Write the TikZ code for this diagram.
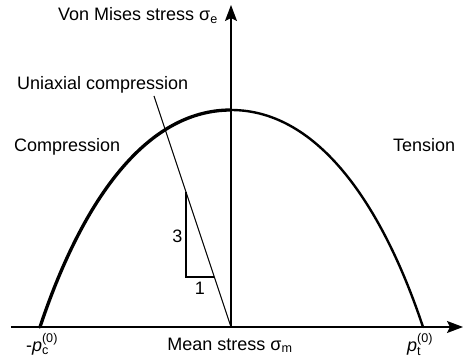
\documentclass[tikz,border=0pt]{standalone}
\usepackage{amsmath}
\usepackage{fontspec}
\setmainfont{Liberation Sans}
\usetikzlibrary{arrows.meta}

\begin{document}
\begin{tikzpicture}[
  x=1pt, y=1pt,
  axis/.style={line width=1.4pt, -{Stealth[length=16pt, width=12pt, inset=3pt]}},
  surf/.style={line width=#1, line cap=round},
  thin/.style={line width=1.1pt},
  lbl/.style={font=\fontsize{18}{21}\selectfont, inner sep=0pt},
]
\useasboundingbox (-231,-34) rectangle (234,327);

% --- Axes ---
\coordinate (O) at (0,0);
\coordinate (xl) at (-220,0);
\coordinate (xr) at (232,0);
\coordinate (yt) at (0,322);
\draw[axis] (xl) -- (xr);
\draw[axis] (O) -- (yt);

\node[lbl, anchor=base east] (ylab) at (-13,306) {Von Mises stress σ\textsubscript{e}};
\node[lbl, anchor=base] (xlab) at (-1,-23) {Mean stress σ\textsubscript{m}};
\node[lbl, anchor=base] (pclab) at (-189,-24) {-\textit{p}$_\text{c}^\text{(0)}$};
\node[lbl, anchor=base] (ptlab) at (189,-24) {\textit{p}$_\text{t}^\text{(0)}$};

% --- Yield surface ---
\coordinate (pc) at (-191,0);
\coordinate (pt) at (192,0);
\coordinate (top) at (0,217);
\draw[surf=3.3pt] (pc) .. controls (-151,120) and (-88,217) .. (top);
\draw[surf=2.4pt] (top) .. controls (88,217) and (152,120) .. (pt);

\node[lbl, anchor=base west] (comp) at (-217,175.5) {Compression};
\node[lbl, anchor=base west] (tens) at (162,175.5) {Tension};

% --- Uniaxial compression path, slope 3:1 ---
\coordinate (uc) at (-77,231);
\draw[thin] (O) -- (uc);
\node[lbl, anchor=base west] (uclab) at (-214,237) {Uniaxial compression};

\coordinate (ta) at (-45,135);
\coordinate (tb) at (-45,50);
\coordinate (tc) at (-16.7,50);
\draw[thin] (ta) -- (tb) -- (tc);
\node[lbl, anchor=center] (three) at (-53.5,91) {3};
\node[lbl, anchor=center] (one) at (-31,38.5) {1};

\end{tikzpicture}
\end{document}
